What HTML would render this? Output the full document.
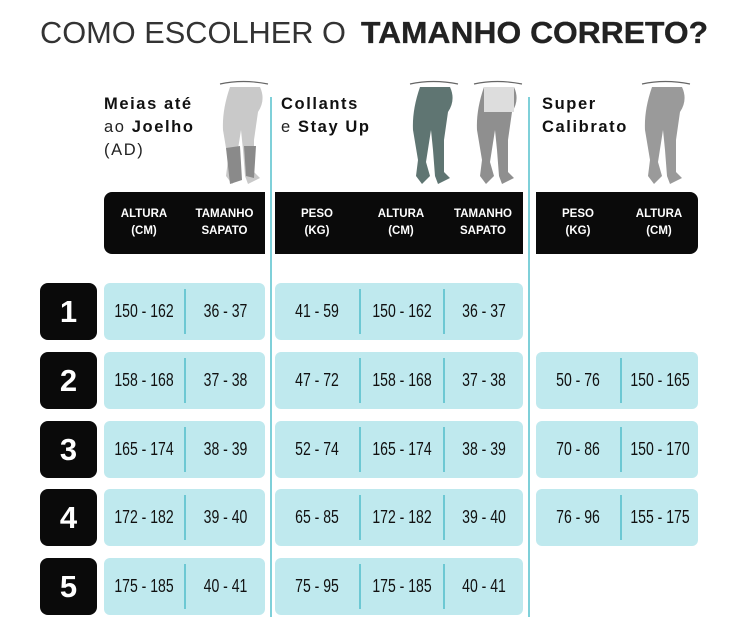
<!DOCTYPE html>
<html><head><meta charset="utf-8"><style>
body{margin:0;background:#fff;width:750px;height:643px;overflow:hidden;position:relative;font-family:"Liberation Sans",sans-serif}
.a{position:absolute}
.num{position:absolute;left:40px;width:57px;height:57px;background:#0a0a0a;border-radius:8px;color:#fff;font-weight:bold;font-size:31px;display:flex;align-items:center;justify-content:center}
.cell{position:absolute;height:57px;background:#bfe9ee;border-radius:6px}
.v{position:absolute;top:0;height:57px;display:flex;align-items:center;justify-content:center;font-size:18px;color:#111;transform:scaleX(.78);white-space:nowrap}
.d{position:absolute;top:6px;width:2px;height:45px;background:#6cc8d3}
.hdr{position:absolute;top:192px;height:62px;background:#0a0a0a;color:#fff}
.h{position:absolute;top:0;height:62px;display:flex;align-items:center;justify-content:center;text-align:center;font-weight:bold;font-size:11.5px;line-height:17px}
.t{position:absolute;font-weight:bold;font-size:16.5px;letter-spacing:1.6px;line-height:23px;color:#111}
.t span{font-weight:normal;color:#222}
.line{position:absolute;width:2px;background:#7fd0d9;top:97px;height:520px}
</style></head><body>
<svg class="a" style="left:0;top:0" width="750" height="60">
<text x="40" y="43" font-size="31" fill="#333" font-family="Liberation Sans" textLength="306" lengthAdjust="spacingAndGlyphs">COMO ESCOLHER O</text>
<text x="361" y="43" font-size="31" fill="#222" font-weight="bold" font-family="Liberation Sans" textLength="347" lengthAdjust="spacingAndGlyphs" stroke="#222" stroke-width="0.3">TAMANHO CORRETO?</text>
</svg>
<div class="line" style="left:270px"></div>
<div class="line" style="left:528px"></div>
<div class="t" style="left:104px;top:93px">Meias até<br><span>ao</span> Joelho<br><span>(AD)</span></div>
<div class="t" style="left:281px;top:93px">Collants<br><span>e</span> Stay Up</div>
<div class="t" style="left:542px;top:93px">Super<br>Calibrato</div>
<svg class="a" style="left:0;top:0" width="750" height="190">
<defs><g id="leg"><path d="M2 4 Q25 -1 50 4" stroke="#666" stroke-width="1.2" fill="none"/><path d="M12 7 L42 7 Q48 20 40 32 L36 60 L36 92 L42 98 L30 104 L27 96 L25 70 L23 50 L18 82 L22 96 L14 104 L8 96 L10 80 L5 50 Q4 30 12 7 Z"/></g></defs>
<g transform="translate(218,80)" fill="#c9c9c9"><use href="#leg"/></g>
<path d="M226 148 L240 146 L242 180 L230 184 Z M244 146 L256 146 L254 178 L246 176 Z" fill="#8a8a8a"/>
<g transform="translate(408,80)" fill="#5f7572"><use href="#leg"/></g>
<g transform="translate(472,80)" fill="#8f8f8f"><use href="#leg"/></g>
<rect x="484" y="87" width="30" height="25" fill="#ddd"/>
<g transform="translate(640,80)" fill="#9a9a9a"><use href="#leg"/></g>
</svg>
<div class="hdr" style="left:104px;width:161px;border-radius:8px 0 0 8px">
<div class="h" style="left:0;width:80px">ALTURA<br>(CM)</div><div class="h" style="left:80px;width:81px">TAMANHO<br>SAPATO</div></div>
<div class="hdr" style="left:275px;width:248px">
<div class="h" style="left:0;width:84px">PESO<br>(KG)</div><div class="h" style="left:84px;width:84px">ALTURA<br>(CM)</div><div class="h" style="left:168px;width:80px">TAMANHO<br>SAPATO</div></div>
<div class="hdr" style="left:536px;width:162px;border-radius:0 8px 8px 0">
<div class="h" style="left:0;width:84px">PESO<br>(KG)</div><div class="h" style="left:84px;width:78px">ALTURA<br>(CM)</div></div>

<div class="num" style="top:283px">1</div>
<div class="cell" style="left:104px;top:283px;width:161px"><div class="v" style="left:0;width:80px">150 - 162</div><div class="d" style="left:80px"></div><div class="v" style="left:82px;width:79px">36 - 37</div></div>
<div class="cell" style="left:275px;top:283px;width:248px"><div class="v" style="left:0;width:84px">41 - 59</div><div class="d" style="left:84px"></div><div class="v" style="left:86px;width:82px">150 - 162</div><div class="d" style="left:168px"></div><div class="v" style="left:170px;width:78px">36 - 37</div></div>

<div class="num" style="top:352px">2</div>
<div class="cell" style="left:104px;top:352px;width:161px"><div class="v" style="left:0;width:80px">158 - 168</div><div class="d" style="left:80px"></div><div class="v" style="left:82px;width:79px">37 - 38</div></div>
<div class="cell" style="left:275px;top:352px;width:248px"><div class="v" style="left:0;width:84px">47 - 72</div><div class="d" style="left:84px"></div><div class="v" style="left:86px;width:82px">158 - 168</div><div class="d" style="left:168px"></div><div class="v" style="left:170px;width:78px">37 - 38</div></div>
<div class="cell" style="left:536px;top:352px;width:162px"><div class="v" style="left:0;width:84px">50 - 76</div><div class="d" style="left:84px"></div><div class="v" style="left:86px;width:76px">150 - 165</div></div>

<div class="num" style="top:421px">3</div>
<div class="cell" style="left:104px;top:421px;width:161px"><div class="v" style="left:0;width:80px">165 - 174</div><div class="d" style="left:80px"></div><div class="v" style="left:82px;width:79px">38 - 39</div></div>
<div class="cell" style="left:275px;top:421px;width:248px"><div class="v" style="left:0;width:84px">52 - 74</div><div class="d" style="left:84px"></div><div class="v" style="left:86px;width:82px">165 - 174</div><div class="d" style="left:168px"></div><div class="v" style="left:170px;width:78px">38 - 39</div></div>
<div class="cell" style="left:536px;top:421px;width:162px"><div class="v" style="left:0;width:84px">70 - 86</div><div class="d" style="left:84px"></div><div class="v" style="left:86px;width:76px">150 - 170</div></div>

<div class="num" style="top:489px">4</div>
<div class="cell" style="left:104px;top:489px;width:161px"><div class="v" style="left:0;width:80px">172 - 182</div><div class="d" style="left:80px"></div><div class="v" style="left:82px;width:79px">39 - 40</div></div>
<div class="cell" style="left:275px;top:489px;width:248px"><div class="v" style="left:0;width:84px">65 - 85</div><div class="d" style="left:84px"></div><div class="v" style="left:86px;width:82px">172 - 182</div><div class="d" style="left:168px"></div><div class="v" style="left:170px;width:78px">39 - 40</div></div>
<div class="cell" style="left:536px;top:489px;width:162px"><div class="v" style="left:0;width:84px">76 - 96</div><div class="d" style="left:84px"></div><div class="v" style="left:86px;width:76px">155 - 175</div></div>

<div class="num" style="top:558px">5</div>
<div class="cell" style="left:104px;top:558px;width:161px"><div class="v" style="left:0;width:80px">175 - 185</div><div class="d" style="left:80px"></div><div class="v" style="left:82px;width:79px">40 - 41</div></div>
<div class="cell" style="left:275px;top:558px;width:248px"><div class="v" style="left:0;width:84px">75 - 95</div><div class="d" style="left:84px"></div><div class="v" style="left:86px;width:82px">175 - 185</div><div class="d" style="left:168px"></div><div class="v" style="left:170px;width:78px">40 - 41</div></div>
</body></html>
